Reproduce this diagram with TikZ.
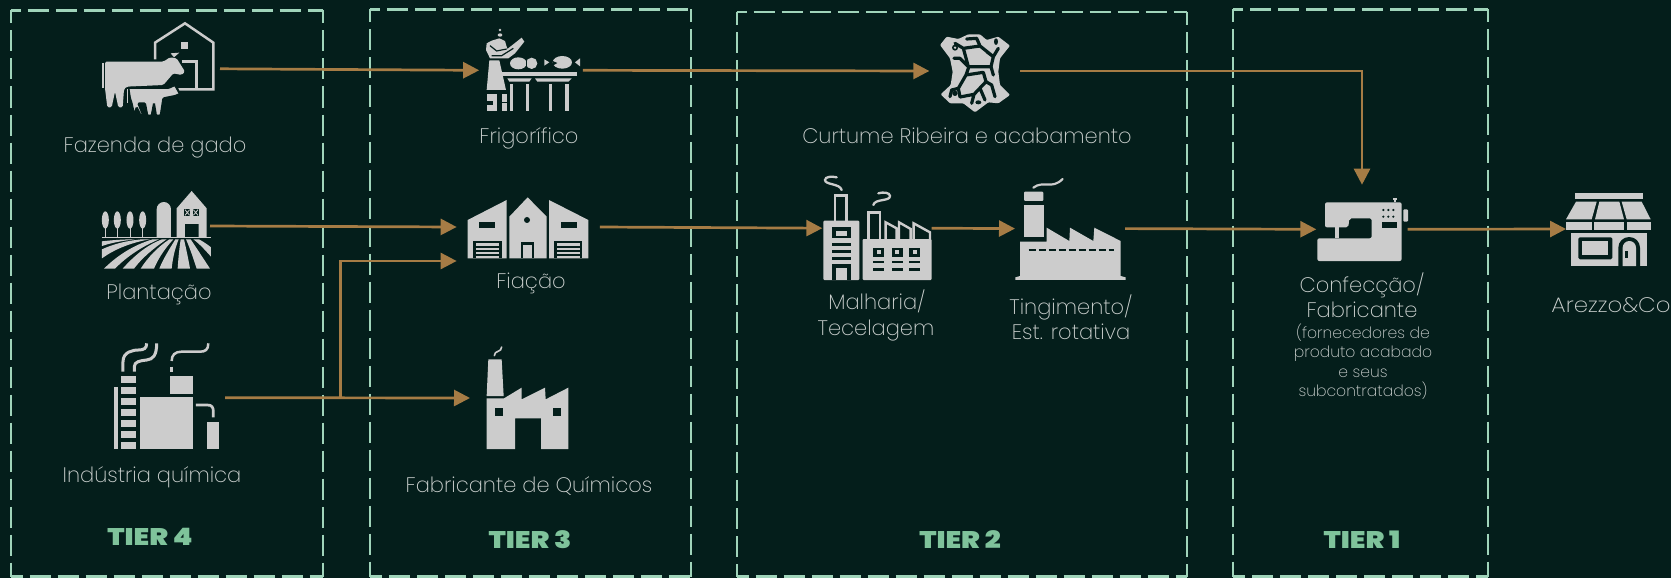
\documentclass[tikz,border=0pt]{standalone}
\usepackage{fontspec}
\usetikzlibrary{arrows.meta,calc}
\newfontfamily\lightf{Poppins ExtraLight}
\newfontfamily\heavyf{Poppins Black}
\definecolor{bgc}{RGB}{4,30,27}
\definecolor{dashc}{RGB}{160,212,186}
\definecolor{tierc}{RGB}{127,195,155}
\definecolor{arrowc}{RGB}{166,124,69}
\definecolor{iconc}{RGB}{204,204,204}
\definecolor{textc}{RGB}{205,210,208}
\newcommand{\tiertxt}[1]{\scalebox{1.17}[1]{#1}}
\tikzset{
 tierline/.style={draw=dashc,line width=2.2pt,dash pattern=on 21pt off 7pt},
 conn/.style={draw=arrowc,line width=2.7pt},
 arr/.style={conn,-{Triangle[length=16pt,width=16pt]}},
 port/.style={inner sep=0pt,outer sep=0pt,draw=none,fill=none},
 lbl/.style={anchor=base,inner sep=0pt,text=textc,font=\lightf\fontsize{21}{24}\selectfont},
 small/.style={anchor=base,inner sep=0pt,text=textc,font=\lightf\fontsize{15.6}{18}\selectfont},
 tierlbl/.style={anchor=base,inner sep=0pt,text=tierc,font=\heavyf\fontsize{24}{26}\selectfont},
 ic/.style={fill=iconc,draw=none},
 cut/.style={fill=bgc,draw=none},
 icl/.style={draw=iconc,line width=2.7pt,fill=none,line cap=round},
 cutl/.style={draw=bgc,line width=2.6pt,fill=none},
 zoomed/.style={x=0.33333pt,y=-0.33333pt},
}
\newcommand{\tierbox}[4]{%
 \draw[tierline,dash phase=11pt] (#1,#2) -- (#3,#2);
 \draw[tierline,dash phase=8pt] (#1,#2) -- (#1,#4);
 \draw[tierline,dash phase=8pt] (#3,#2) -- (#3,#4);
 \draw[tierline,dash phase=9pt] (#1,#4) -- (#3,#4);
}
\begin{document}
\begin{tikzpicture}[x=1pt,y=-1pt]
\useasboundingbox (0,0) rectangle (1671,578);
\fill[bgc] (0,0) rectangle (1671,578);

\tierbox{10.7}{10.5}{323}{576.5}
\tierbox{370}{9.5}{691.3}{576.5}
\tierbox{736.6}{12}{1187.3}{576.5}
\tierbox{1233.3}{9.5}{1488.3}{576.5}

% ---- cow and barn
\begin{scope}[shift={(100,20)},zoomed]
 \draw[icl,line cap=butt,line width=2.5pt] (165,118) -- (165,68) -- (255,10) -- (340,68) -- (340,208) -- (235,208);
 \fill[ic] (243,65) rectangle (263,88);
 \draw[icl,line cap=butt,line width=2.5pt] (245,125) -- (290,125) -- (290,205);
 \fill[ic,rounded corners=1.5pt] (15,125) -- (190,125) -- (210,112) -- (230,115) -- (255,155) -- (245,165) -- (220,160) -- (190,195) -- (80,200) -- (72,208) -- (68,262) -- (55,262) -- (45,215) -- (35,262) -- (22,262) -- (15,205) -- cycle;
 \fill[ic] (212,100) -- (238,98) -- (222,112) -- cycle;
 \draw[iconc,line width=1.8pt] (8,130) -- (8,205);
 \draw[bgc,line width=2pt,fill=iconc,rounded corners=1pt] (85,204) -- (205,204) -- (225,195) -- (240,222) -- (225,228) -- (190,235) -- (182,287) -- (168,287) -- (162,250) -- (155,287) -- (142,287) -- (135,250) -- (115,250) -- (130,287) -- (122,287) -- (110,262) -- (103,287) -- (95,250) -- (90,235) -- cycle;
 \draw[iconc,line width=1.4pt] (83,207) -- (83,250);
\end{scope}

% ---- plantation
\begin{scope}[zoomed]
 \foreach \tx in {316,352,390,428}{
  \fill[ic] (\tx,660) ellipse [x radius=10.5,y radius=26];
  \draw[iconc,line width=0.8pt] (\tx,680) -- (\tx,712);
 }
 \fill[ic] (470,712) -- (470,628) arc[start angle=180,end angle=360,x radius=21.5,y radius=22] -- (513,712) -- cycle;
 \fill[ic] (530,712) -- (530,625) -- (575,573) -- (620,625) -- (620,712) -- (596,712) -- (596,672) -- (555,672) -- (555,712) -- cycle;
 \foreach \wx in {562,587}{
  \fill[cut] (\wx-9,627) rectangle (\wx+9,648);
  \draw[iconc,line width=0.8pt] (\wx-7,629) -- (\wx+7,646) (\wx+7,629) -- (\wx-7,646);
 }
 \draw[iconc,line width=1.2pt] (306,713) -- (633,713);
 \fill[ic] (306,724) .. controls (340,720) and (370,718) .. (405,718) .. controls (370,722) and (335,728) .. (306,738) -- cycle;
 \fill[ic] (306,748) .. controls (340,732) and (380,722) .. (425,718) -- (450,718) .. controls (390,728) and (340,750) .. (306,775) -- cycle;
 \fill[ic] (312,806) .. controls (350,768) and (400,735) .. (458,718) -- (477,718) .. controls (425,740) and (380,770) .. (345,806) -- cycle;
 \fill[ic] (368,806) .. controls (400,770) and (440,735) .. (486,718) -- (500,718) .. controls (460,745) and (425,775) .. (402,806) -- cycle;
 \fill[ic] (422,806) .. controls (445,770) and (475,740) .. (508,718) -- (520,718) .. controls (495,745) and (475,775) .. (462,806) -- cycle;
 \fill[ic] (478,806) .. controls (490,775) and (510,745) .. (526,718) -- (536,718) .. controls (525,745) and (518,775) .. (515,806) -- cycle;
 \fill[ic] (533,806) .. controls (535,775) and (538,745) .. (542,718) -- (552,718) .. controls (558,745) and (565,775) .. (570,806) -- cycle;
 \fill[ic] (590,806) .. controls (580,775) and (570,745) .. (558,718) -- (572,718) .. controls (590,745) and (610,775) .. (630,806) -- cycle;
 \fill[ic] (580,718) -- (597,718) .. controls (610,725) and (622,733) .. (633,742) -- (633,770) .. controls (615,750) and (600,733) .. (580,718) -- cycle;
\end{scope}

% chemical plant
\begin{scope}[shift={(0,300)},zoomed]
 \foreach \ya/\yb in {228/248,261/282,293/315,326/348,359/381,392/414,425/446}{
  \fill[ic] (363,\ya) rectangle (409,\yb);
 }
 \fill[ic] (341,262) rectangle (353,446);
 \fill[ic] (420,292) rectangle (578,446);
 \fill[ic] (509,227) rectangle (578,283);
 \fill[ic] (622,365) rectangle (656,446);
 \draw[icl,line cap=butt] (588,315) -- (622,315) .. controls (636,315) and (640,322) .. (640,335) -- (640,352);
 \draw[icl,line cap=butt,line width=3pt] (369,215) -- (369,185) .. controls (369,155) and (400,150) .. (415,150) .. controls (432,150) and (440,145) .. (440,130);
 \draw[icl,line cap=butt,line width=3pt] (403,215) -- (403,200) .. controls (403,185) and (420,182) .. (440,180) .. controls (460,178) and (470,165) .. (470,130);
 \draw[icl,line cap=butt,line width=3pt] (515,200) -- (515,215);
 \draw[icl,line cap=butt,line width=2.5pt] (515,183) .. controls (515,165) and (525,155) .. (545,155) -- (600,155) .. controls (615,155) and (625,150) .. (625,130);
\end{scope}

% frigorifico
\begin{scope}[shift={(480,25)},zoomed]
 \fill[ic] (65,140) rectangle (290,152);
 \fill[ic] (82,160) -- (155,160) -- (148,170) -- (88,170) -- cycle;
 \fill[ic] (165,160) -- (275,160) -- (265,170) -- (172,170) -- cycle;
 \foreach \lx in {90,138,207,256}{ \fill[ic] (\lx,178) rectangle (\lx+10,258); }
 \fill[ic] (60,15) circle[radius=4];
 \fill[ic] (60,30) ellipse[x radius=7,y radius=5];
 \fill[ic] (20,55) -- (35,47) -- (58,40) -- (75,48) -- (82,72) -- (125,38) -- (133,50) -- (105,85) -- (85,100) -- (30,100) -- (18,75) -- cycle;
 \draw[cutl,line width=1.2pt] (30,62) -- (50,78) -- (80,72) (35,92) -- (65,92) -- (100,70);
 \fill[ic] (28,106) -- (58,106) -- (78,195) -- (20,195) -- cycle;
 \fill[ic] (22,207) -- (52,207) -- (52,258) -- (22,258) -- cycle;
 \fill[cut] (22,228) rectangle (38,240);
 \fill[ic] (66,207) rectangle (81,258);
 \draw[cutl,line width=1pt] (66,232) -- (81,232);
 \fill[ic] (115,115) ellipse[x radius=25,y radius=18];
 \fill[ic] (155,115) ellipse[x radius=17,y radius=17];
 \draw[bgc,line width=0.9pt] (139,100) -- (139,131);
 \fill[ic] (247,112) ellipse[x radius=29,y radius=19];
 \fill[cut] (218,108) -- (232,114) -- (218,122) -- cycle;
 \fill[ic] (193,103) -- (208,112) -- (193,122) -- cycle;
 \fill[ic] (300,100) -- (285,112) -- (300,124) -- cycle;
\end{scope}

% fiacao
\begin{scope}[shift={(350,0)},zoomed]
 \fill[ic] (353,660) -- (470,600) -- (470,775) -- (353,775) -- cycle;
 \fill[ic] (478,650) -- (533,592) -- (590,650) -- (590,775) -- (478,775) -- cycle;
 \fill[ic] (597,600) -- (715,660) -- (715,775) -- (597,775) -- cycle;
 \fill[cut] (388,665) rectangle (435,685);
 \fill[cut] (633,665) rectangle (680,685);
 \fill[cut] (531,660) circle[radius=9];
 \fill[cut] (370,722) rectangle (455,775);
 \fill[cut] (612,722) rectangle (697,775);
 \foreach \sy in {730,743,756,768}{
  \fill[ic] (378,\sy) rectangle (447,\sy+7);
  \fill[ic] (620,\sy) rectangle (690,\sy+7);
 }
 \fill[cut] (513,727) rectangle (553,775);
 \fill[ic] (520,735) rectangle (546,775);
\end{scope}

% fabricante
\begin{scope}[shift={(350,300)},zoomed]
 \fill[ic] (415,178) -- (455,178) -- (461,288) -- (410,288) -- cycle;
 \fill[ic] (410,295) -- (462,295) -- (515,263) -- (515,298) -- (585,263) -- (587,298) -- (655,263) -- (655,447) -- (573,447) -- (573,355) -- (495,355) -- (495,447) -- (410,447) -- cycle;
 \fill[cut] (435,323) rectangle (460,347);
 \fill[cut] (608,323) rectangle (633,347);
 \draw[icl,line width=1.6pt] (433,167) .. controls (433,150) and (455,158) .. (455,141);
\end{scope}

% leather
\begin{scope}[shift={(930,25)},zoomed]
 \fill[ic,rounded corners=1pt] (30,60) -- (50,35) -- (85,42) -- (115,28) -- (150,28) -- (170,45) -- (205,35) -- (240,62) -- (210,100) -- (205,140) -- (210,180) -- (240,210) -- (205,235) -- (175,232) -- (135,262) -- (100,235) -- (60,235) -- (32,208) -- (62,180) -- (68,140) -- (60,100) -- cycle;
 \draw[cutl,line width=3.2pt,line cap=round,line join=round]
  (100,70) -- (150,63) -- (190,95) -- (183,125) -- (115,125) -- cycle
  (108,150) -- (160,142) -- (168,170) -- (132,208) -- (90,216) -- (85,190) -- cycle
  (100,70) -- (75,55) (150,63) -- (140,40) -- (110,42)
  (190,95) -- (205,70) (190,95) -- (170,80)
  (115,125) -- (90,100) -- (72,100)
  (183,125) -- (190,150) (108,150) -- (115,130)
  (168,170) -- (185,180) -- (195,215)
  (132,208) -- (125,235) (150,190) -- (165,225)
  (85,190) -- (65,195) -- (60,215);
 \fill[cut] (75,68) circle[radius=9];
 \fill[cut] (198,50) ellipse[x radius=6,y radius=10];
 \fill[cut] (75,205) circle[radius=8];
 \fill[ic] (75,68) circle[radius=4];
 \fill[cut] (145,232) ellipse[x radius=9,y radius=6];
\end{scope}

% malharia
\begin{scope}[shift={(820,170)},zoomed]
 \fill[ic,rounded corners=1pt] (10,152) rectangle (118,330);
 \draw[icl,line cap=butt,line width=2.4pt] (45,152) -- (45,77) -- (80,77) -- (80,152);
 \draw[icl,line width=2.3pt] (65,60) .. controls (60,40) and (15,45) .. (15,30) .. controls (15,20) and (35,18) .. (50,22);
 \fill[cut] (37,172) rectangle (92,205);
 \fill[ic] (47,183) rectangle (80,198);
 \foreach \by in {220,240,262}{ \fill[cut] (37,\by) rectangle (92,\by+8); }
 \fill[cut] (37,282) rectangle (92,330);
 \fill[ic] (48,295) rectangle (80,330);
 \fill[ic,rounded corners=1pt] (128,207) rectangle (335,330);
 \draw[icl,line cap=butt,line width=2.4pt] (145,207) -- (145,127) -- (180,127) -- (180,207);
 \draw[icl,line width=2.3pt] (160,105) .. controls (165,85) and (210,95) .. (210,78) .. controls (210,68) and (190,65) .. (175,70);
 \draw[icl,line cap=butt,line width=2.4pt] (197,207) -- (197,157) -- (230,175) -- (230,207);
 \draw[icl,line cap=butt,line width=2.4pt] (237,207) -- (237,157) -- (272,177) -- (272,207);
 \draw[icl,line cap=butt,line width=2.4pt] (281,207) -- (281,160) -- (330,187) -- (330,207);
 \foreach \wx in {160,215,268}{
  \fill[cut] (\wx,233) rectangle (\wx+33,262);
  \fill[ic] (\wx+10,241) rectangle (\wx+23,253);
  \fill[cut] (\wx,272) rectangle (\wx+33,280);
  \fill[cut] (\wx,295) rectangle (\wx+33,303);
 }
\end{scope}

% tingimento
\begin{scope}[shift={(780,0)},zoomed]
 \fill[ic,rounded corners=1pt] (732,575) rectangle (790,603);
 \fill[ic] (732,615) rectangle (792,712);
 \fill[ic] (720,725) -- (800,725) -- (800,683) -- (868,723) -- (870,683) -- (940,723) -- (943,683) -- (1022,723) -- (1022,828) -- (1037,832) -- (1037,840) -- (706,840) -- (706,832) -- (720,828) -- cycle;
 \draw[bgc,line width=2.4pt,dash pattern=on 7pt off 3pt] (746,750) -- (1002,750);
 \draw[icl,line width=2.2pt] (760,563) .. controls (790,540) and (815,570) .. (848,537);
\end{scope}

% sewing machine and store
\begin{scope}[shift={(1200,150)},zoomed]
 \fill[ic,rounded corners=2pt] (375,157) -- (605,157) -- (605,333) -- (352,333) -- (352,265) -- (515,265) -- (515,205) -- (448,205) -- (445,232) -- (375,232) -- cycle;
 \fill[ic] (404,232) rectangle (416,265);
 \foreach \dx in {550,565,580}{
  \fill[cut] (\dx,180) circle[radius=3.6];
  \fill[cut] (\dx,200) circle[radius=3.6];
 }
 \fill[cut] (547,215) rectangle (590,233);
 \fill[ic,rounded corners=1pt] (610,178) rectangle (624,215);
 \fill[ic] (578,145) rectangle (592,150);
 \fill[ic] (581,150) rectangle (588,157);

 \fill[ic] (1125,128) rectangle (1328,148);
 \fill[ic] (1128,155) -- (1190,155) -- (1175,208) -- (1098,208) -- cycle;
 \fill[ic] (1198,155) -- (1258,155) -- (1272,208) -- (1185,208) -- cycle;
 \fill[ic] (1265,155) -- (1325,155) -- (1352,208) -- (1280,208) -- cycle;
 \fill[ic] (1098,215) rectangle (1175,240);
 \fill[ic] (1183,215) rectangle (1272,240);
 \fill[ic] (1280,215) rectangle (1353,240);
 \fill[ic] (1112,248) rectangle (1340,348);
 \fill[cut,rounded corners=1.5pt] (1135,262) rectangle (1237,328);
 \fill[ic] (1147,273) rectangle (1225,316);
 \fill[cut] (1255,348) -- (1255,293) arc[start angle=180,end angle=360,x radius=32.5,y radius=32] -- (1320,348) -- cycle;
 \fill[ic] (1268,348) -- (1268,293) arc[start angle=180,end angle=360,x radius=20,y radius=20] -- (1308,348) -- cycle;
 \fill[cut] (1274,302) rectangle (1285,325);
\end{scope}

% ---- connector end nodes
\node[port,minimum width=1pt,minimum height=1pt] (cow) at (220,68.8) {};
\node[port,minimum width=103.7pt,minimum height=1pt] (frig) at (531,70.3) {};
\node[port,minimum width=90.7pt,minimum height=1pt] (leather) at (974.7,71) {};
\node[port,minimum width=1pt,minimum height=1pt] (plant) at (210,226) {};
\node[port,minimum width=143.3pt,minimum height=68pt] (fiacao) at (528.3,227) {};
\node[port,minimum width=1pt,minimum height=1pt] (chem) at (225,397.7) {};
\node[port,minimum width=1pt,minimum height=1pt] (fabr) at (470,398) {};
\node[port,minimum width=109.4pt,minimum height=1pt] (malha) at (877,228.2) {};
\node[port,minimum width=110pt,minimum height=1pt] (ting) at (1070,228.6) {};
\node[port,minimum width=91.4pt,minimum height=89.2pt] (sew) at (1362,229.3) {};
\node[port,minimum width=1pt,minimum height=1pt] (store) at (1566,229) {};
\coordinate (junction) at (340.7,397.7);

\draw[arr] (cow.center) -- (frig.west);
\draw[arr] (frig.east) -- (leather.west);
\draw[arr] (leather.east) -| (sew.north);
\draw[arr] (plant.center) -- (fiacao.west);
\draw[arr] (chem.center) -- (fabr.center);
\draw[arr] (junction) |- (fiacao.south west);
\draw[arr] (fiacao.east) -- (malha.west);
\draw[arr] (malha.east) -- (ting.west);
\draw[arr] (ting.east) -- (sew.west);
\draw[arr] (sew.east) -- (store.center);

% ---- labels
\node[lbl] (t1) at (155,152) {Fazenda de gado};
\node[lbl] (t2) at (159,299) {Plantação};
\node[lbl] (t3) at (152,482) {Indústria química};
\node[tierlbl] (t4) at (150,545) {\tiertxt{TIER 4}};
\node[lbl] (t5) at (529,143) {Frigorífico};
\node[lbl] (t6) at (531,288) {Fiação};
\node[lbl] (t7) at (529,492) {Fabricante de Químicos};
\node[tierlbl] (t8) at (530,548) {\tiertxt{TIER 3}};
\node[lbl] (t9) at (967,143) {Curtume Ribeira e acabamento};
\node[lbl] (t10) at (877,309) {Malharia/};
\node[lbl] (t11) at (876,335) {Tecelagem};
\node[lbl] (t12) at (1071,314) {Tingimento/};
\node[lbl] (t13) at (1071,339) {Est. rotativa};
\node[tierlbl] (t14) at (960,548) {\tiertxt{TIER 2}};
\node[tierlbl] (t15) at (1362,548) {\tiertxt{TIER 1}};
\node[lbl] (t16) at (1362,292) {Confecção/};
\node[lbl] (t17) at (1362,317) {Fabricante};
\node[small] (t18) at (1363,338) {(fornecedores de};
\node[small] (t19) at (1363,357) {produto acabado};
\node[small] (t20) at (1363,377) {e seus};
\node[small] (t21) at (1363,396) {subcontratados)};
\node[lbl] (t22) at (1611,312) {\scalebox{1.09}[1]{Arezzo\&Co}};
\end{tikzpicture}
\end{document}
